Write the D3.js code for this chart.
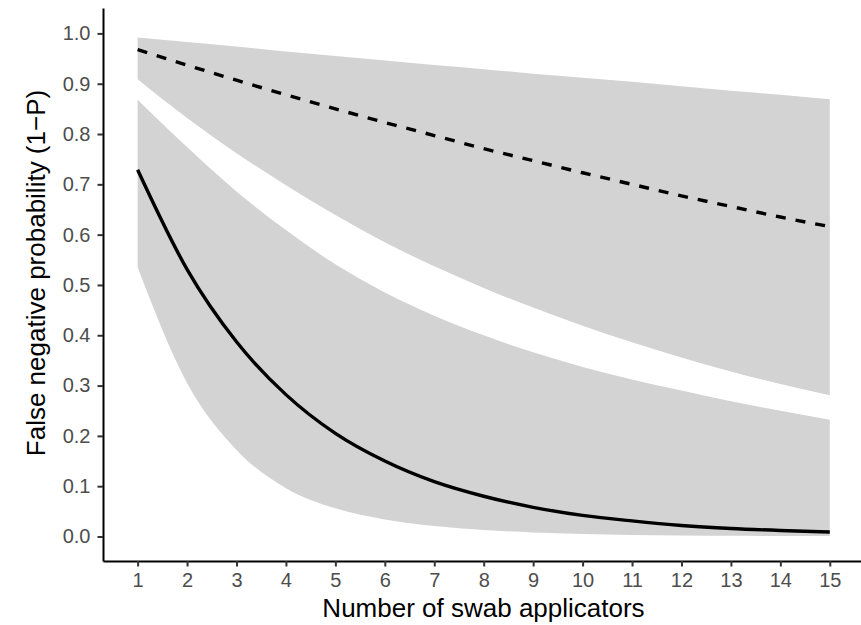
<!DOCTYPE html>
<meta charset="utf-8">
<script src="https://d3js.org/d3.v7.min.js"></script>
<style>
  body { margin: 0; background: #fff; }
  #chart svg { display: block; font-family: "Liberation Sans", Arial, Helvetica, sans-serif; }
  .tick text { fill: #4d4d4d; }
</style>
<div id="chart"></div>
<script>
// number of swab applicators
var swabs = [1, 2, 3, 4, 5, 6, 7, 8, 9, 10, 11, 12, 13, 14, 15];

// dashed curve and its grey band
var meanHigh  = [0.968, 0.937, 0.907, 0.878, 0.850, 0.823, 0.797, 0.771, 0.747, 0.723, 0.700, 0.677, 0.656, 0.635, 0.616];
var bandHighUpper = [0.992, 0.983, 0.974, 0.964, 0.955, 0.946, 0.937, 0.929, 0.920, 0.912, 0.904, 0.895, 0.886, 0.878, 0.869];
var bandHighLower = [0.909, 0.832, 0.762, 0.698, 0.639, 0.585, 0.537, 0.494, 0.455, 0.419, 0.386, 0.356, 0.328, 0.303, 0.281];

// solid curve and its grey band
var meanLow  = [0.729, 0.531, 0.387, 0.282, 0.205, 0.150, 0.109, 0.080, 0.058, 0.042, 0.031, 0.022, 0.016, 0.012, 0.009];
var bandLowUpper = [0.868, 0.774, 0.686, 0.609, 0.541, 0.485, 0.439, 0.400, 0.366, 0.337, 0.312, 0.290, 0.269, 0.250, 0.232];
var bandLowLower = [0.535, 0.305, 0.172, 0.096, 0.056, 0.034, 0.021, 0.013, 0.008, 0.005, 0.003, 0.002, 0.0015, 0.001, 0.001];

var yTicks = [0, 0.1, 0.2, 0.3, 0.4, 0.5, 0.6, 0.7, 0.8, 0.9, 1.0];

var width = 861, height = 625;

var svg = d3.select("#chart").append("svg")
    .attr("width", width)
    .attr("height", height);

var x = d3.scaleLinear().domain([0.3, 15.7]).range([103, 864.4]);
var y = d3.scaleLinear().domain([-0.0487, 1.0505]).range([561, 8]);

function rows(lo, hi, mid) {
  return swabs.map(function(s, i) { return { s: s, lo: lo[i], hi: hi[i], mid: mid[i] }; });
}
var high = rows(bandHighLower, bandHighUpper, meanHigh);
var low = rows(bandLowLower, bandLowUpper, meanLow);

var area = d3.area()
    .curve(d3.curveMonotoneX)
    .x(function(d) { return x(d.s); })
    .y0(function(d) { return y(d.lo); })
    .y1(function(d) { return y(d.hi); });

var line = d3.line()
    .curve(d3.curveMonotoneX)
    .x(function(d) { return x(d.s); })
    .y(function(d) { return y(d.mid); });

svg.append("path").datum(high).attr("d", area).attr("fill", "#d3d3d3");
svg.append("path").datum(low).attr("d", area).attr("fill", "#d3d3d3");

svg.append("path").datum(high).attr("d", line)
    .attr("fill", "none").attr("stroke", "#000").attr("stroke-width", 3.4)
    .attr("stroke-dasharray", "10,10");
svg.append("path").datum(low).attr("d", line)
    .attr("fill", "none").attr("stroke", "#000").attr("stroke-width", 3.4);

// axes
var xAxis = svg.append("g")
    .attr("transform", "translate(0,561)")
    .call(d3.axisBottom(x).tickValues(swabs).tickSize(5.5).tickSizeOuter(0).tickPadding(6));
var yAxis = svg.append("g")
    .attr("transform", "translate(103,0)")
    .call(d3.axisLeft(y).tickValues(yTicks).tickFormat(d3.format(".1f")).tickSize(5.5).tickSizeOuter(0).tickPadding(7));

[xAxis, yAxis].forEach(function(g) {
  g.select(".domain").attr("stroke", "#000").attr("stroke-width", 2);
  g.selectAll(".tick line").attr("stroke", "#333").attr("stroke-width", 2);
  g.selectAll(".tick text").attr("font-size", 20).attr("font-family", null);
});

svg.append("text")
    .attr("x", 483.5)
    .attr("y", 617)
    .attr("text-anchor", "middle")
    .attr("font-size", 26)
    .text("Number of swab applicators");

svg.append("text")
    .attr("transform", "translate(45,273) rotate(-90)")
    .attr("text-anchor", "middle")
    .attr("font-size", 26)
    .text("False negative probability (1\u2212P)");
</script>
